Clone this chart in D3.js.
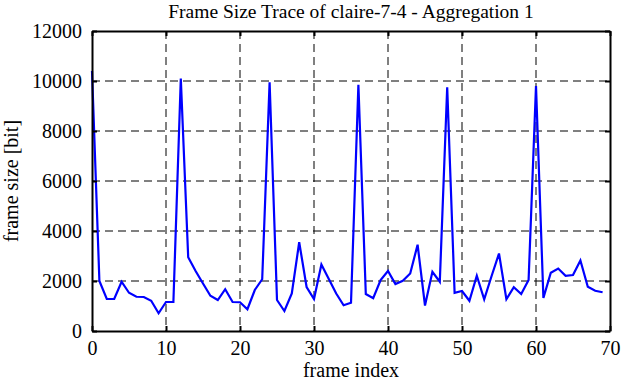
<!DOCTYPE html>
<html>
<head>
<meta charset="utf-8">
<script src="https://cdn.jsdelivr.net/npm/d3@7"></script>
<style>
  body { margin: 0; background: #fff; }
  text { font-family: "Liberation Serif", "DejaVu Serif", serif; fill: #000; }
</style>
</head>
<body>
<div id="chart"></div>
<script>
// frame sizes in bit, one value per frame (aggregation 1)
const frameSizes = [
  10400, 2000, 1280, 1280, 1970, 1530, 1370, 1360, 1210, 710,
  1160, 1160, 10100, 2950, 2400, 1900, 1410, 1240, 1670, 1160,
  1150, 870, 1640, 2070, 9950, 1240, 800, 1500, 3550, 1760,
  1280, 2660, 2080, 1500, 1030, 1130, 9850, 1480, 1310, 2040,
  2400, 1880, 2010, 2300, 3450, 1020, 2370, 1970, 9750, 1530,
  1600, 1210, 2210, 1270, 2200, 3100, 1270, 1750, 1480, 2040,
  9800, 1320, 2330, 2500, 2210, 2240, 2820, 1770, 1610, 1550
];
const xTicks = [0, 10, 20, 30, 40, 50, 60, 70];
const yTicks = [0, 2000, 4000, 6000, 8000, 10000, 12000];

const width = 621;
const height = 382;
const margin = { top: 31, right: 11, bottom: 51, left: 92 };
const w = width - margin.left - margin.right;
const h = height - margin.top - margin.bottom;

const svg = d3.select('#chart')
  .append('svg')
  .attr('width', width)
  .attr('height', height);

const g = svg.append('g')
  .attr('transform', `translate(${margin.left}, ${margin.top})`);

const x = d3.scaleLinear().domain([0, 70]).range([0, w]);
const y = d3.scaleLinear().domain([0, 12000]).range([h, 0]);

// dashed grid
g.append('g')
  .selectAll('line')
  .data(xTicks.slice(1, -1))
  .enter()
  .append('line')
  .attr('x1', d => x(d)).attr('x2', d => x(d))
  .attr('y1', 0).attr('y2', h)
  .attr('stroke', '#000')
  .attr('stroke-width', 1)
  .attr('stroke-dasharray', '8,5');

g.append('g')
  .selectAll('line')
  .data(yTicks.slice(1, -1))
  .enter()
  .append('line')
  .attr('x1', 0).attr('x2', w)
  .attr('y1', d => y(d)).attr('y2', d => y(d))
  .attr('stroke', '#000')
  .attr('stroke-width', 1)
  .attr('stroke-dasharray', '8,5');

// trace
const line = d3.line()
  .x((d, i) => x(i))
  .y(d => y(d));

g.append('path')
  .datum(frameSizes)
  .attr('fill', 'none')
  .attr('stroke', '#0000ff')
  .attr('stroke-width', 2.2)
  .attr('stroke-linejoin', 'miter')
  .attr('d', line);

// axes with inward ticks on all four sides
const fmt = d3.format('d');
const axisB = g.append('g')
  .attr('transform', `translate(0, ${h})`)
  .call(d3.axisBottom(x).tickValues(xTicks).tickFormat(fmt).tickSizeInner(-5).tickSizeOuter(0).tickPadding(10));
const axisL = g.append('g')
  .call(d3.axisLeft(y).tickValues(yTicks).tickFormat(fmt).tickSizeInner(-5).tickSizeOuter(0).tickPadding(10));
const axisT = g.append('g')
  .call(d3.axisTop(x).tickValues(xTicks).tickFormat('').tickSizeInner(-5).tickSizeOuter(0));
const axisR = g.append('g')
  .attr('transform', `translate(${w}, 0)`)
  .call(d3.axisRight(y).tickValues(yTicks).tickFormat('').tickSizeInner(-5).tickSizeOuter(0));

[axisB, axisL, axisT, axisR].forEach(a => {
  a.select('.domain').attr('stroke', '#000').attr('stroke-width', 2);
  a.selectAll('.tick line').attr('stroke', '#000').attr('stroke-width', 2);
  a.selectAll('.tick text').style('font-size', '20px').style('font-family', '"Liberation Serif", serif');
});

// labels
svg.append('text')
  .attr('x', margin.left + w / 2)
  .attr('y', 18)
  .attr('text-anchor', 'middle')
  .style('font-size', '19.5px')
  .text('Frame Size Trace of claire-7-4 - Aggregation 1');

svg.append('text')
  .attr('x', margin.left + w / 2)
  .attr('y', 377)
  .attr('text-anchor', 'middle')
  .style('font-size', '20px')
  .text('frame index');

svg.append('text')
  .attr('transform', `translate(18, ${margin.top + h / 2}) rotate(-90)`)
  .attr('text-anchor', 'middle')
  .style('font-size', '20px')
  .text('frame size [bit]');
</script>
</body>
</html>
